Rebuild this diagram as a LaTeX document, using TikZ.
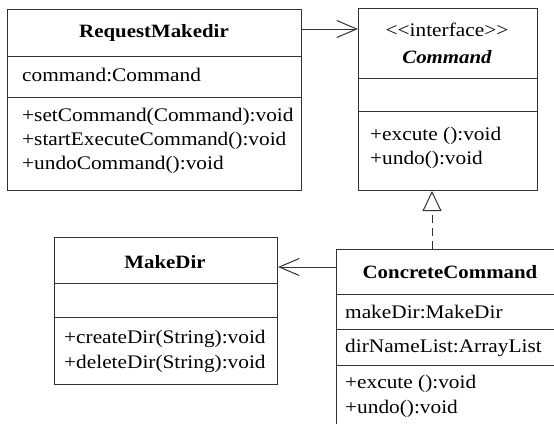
\documentclass[tikz,border=0pt]{standalone}
\usepackage{fontspec}
\setmainfont{Liberation Serif}[FakeStretch=1.11]
\usetikzlibrary{arrows.meta}
\newcommand{\clsfont}{\fontsize{19.2}{24}\selectfont}
\newcommand{\ttlfont}{\fontsize{18.8}{24}\selectfont}
\begin{document}
\begin{tikzpicture}[x=1pt,y=-1pt,
  box/.style={draw=black!80, line width=1pt, inner sep=0pt, anchor=north west},
  sep/.style={draw=black!80, line width=1pt},
  txt/.style={anchor=west, inner sep=0pt, font=\clsfont},
  ttl/.style={anchor=center, inner sep=0pt, font=\ttlfont\bfseries},
  assoc/.style={draw=black!80, line width=1pt, -{Straight Barb[length=20pt,width=17pt,line width=1pt]}},
  realiz/.style={draw=black!80, line width=1pt, dash pattern=on 8pt off 5pt, -{Triangle[open,length=20pt,width=19pt,line width=1pt]}}
]
\useasboundingbox (0,0) rectangle (554,423);
\clip (0,0) rectangle (554,423);
\fill[white] (0,0) rectangle (554,423);

% RequestMakedir
\node[box, minimum width=294pt, minimum height=181pt] (rq) at (7,9) {};
\draw[sep] (7,56) -- (301,56);
\draw[sep] (7,97) -- (301,97);
\node[ttl] (rqT) at (154,33) {RequestMakedir};
\node[txt] (rqA) at (22,75) {command:Command};
\node[txt] (rqM1) at (22,117) {+setCommand(Command):void};
\node[txt] (rqM2) at (22,141) {+startExecuteCommand():void};
\node[txt] (rqM3) at (22,165) {+undoCommand():void};

% Command
\node[box, minimum width=179pt, minimum height=182pt] (cm) at (358,8) {};
\draw[sep] (358,78) -- (537,78);
\draw[sep] (358,111) -- (537,111);
\node[anchor=center, inner sep=0pt, font=\clsfont] (cmS) at (447,30) {\mbox{<}\mbox{<}interface\mbox{>}\mbox{>}};
\node[anchor=center, inner sep=0pt, font=\ttlfont\bfseries\itshape] (cmT) at (447,57) {Command};
\node[txt] (cmM1) at (370,136) {+excute ():void};
\node[txt] (cmM2) at (370,160) {+undo():void};

% MakeDir
\node[box, minimum width=223pt, minimum height=147pt] (md) at (54,237) {};
\draw[sep] (54,283) -- (277,283);
\draw[sep] (54,317) -- (277,317);
\node[ttl] (mdT) at (165,262) {MakeDir};
\node[txt] (mdM1) at (64,339) {+createDir(String):void};
\node[txt] (mdM2) at (64,364) {+deleteDir(String):void};

% ConcreteCommand
\node[box, minimum width=240pt, minimum height=220pt] (cc) at (336,249) {};
\draw[sep] (336,294) -- (576,294);
\draw[sep] (336,329) -- (576,329);
\draw[sep] (336,365) -- (576,365);
\node[ttl] (ccT) at (450,272) {ConcreteCommand};
\node[txt] (ccA1) at (345,312) {makeDir:MakeDir};
\node[txt] (ccA2) at (345,348) {dirNameList:ArrayList};
\node[txt] (ccM1) at (345,384) {+excute ():void};
\node[txt] (ccM2) at (345,409) {+undo():void};

% connectors
\coordinate (aY) at (0,29);
\coordinate (bY) at (0,267);
\coordinate (rX) at (432,0);
\draw[assoc] (rq.east |- aY) -- (cm.west |- aY);
\draw[assoc] (cc.west |- bY) -- (md.east |- bY);
\draw[realiz] (cc.north -| rX) -- (cm.south -| rX);
\end{tikzpicture}
\end{document}
